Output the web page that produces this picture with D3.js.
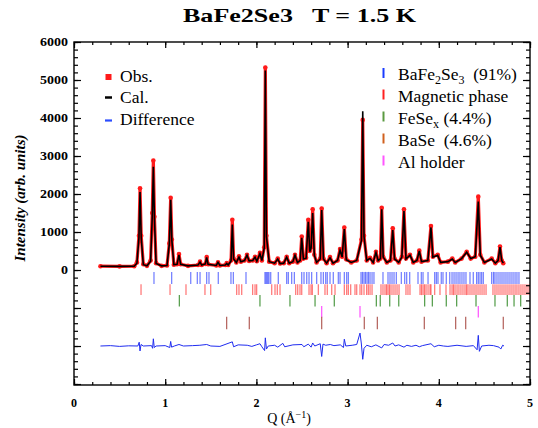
<!DOCTYPE html>
<html>
<head>
<meta charset="utf-8">
<script src="https://cdn.jsdelivr.net/npm/d3@7"></script>
<style>
  body { margin: 0; background: #fff; }
  svg { display: block; }
  text { font-family: "Liberation Serif", "Times New Roman", serif; white-space: pre; }
  .axis path { display: none; }
  .axis line { stroke: #000; stroke-width: 1.2; }
</style>
</head>
<body>
<div id="chart"></div>
<script>
// profile: Q (1/A), observed and calculated intensity
var qVals = [0.29, 0.50, 0.66, 0.69, 0.712, 0.724, 0.737, 0.76, 0.80, 0.84, 0.858, 0.870, 0.882, 0.90, 0.96,
  1.02, 1.045, 1.060, 1.073, 1.095, 1.13, 1.151, 1.17, 1.25, 1.36, 1.382, 1.40, 1.44, 1.455, 1.47, 1.56,
  1.579, 1.60, 1.66, 1.674, 1.69, 1.722, 1.736, 1.750, 1.78, 1.809, 1.83, 1.87, 1.897, 1.92, 1.96, 1.985,
  2.005, 2.039, 2.06, 2.086, 2.098, 2.110, 2.14, 2.20, 2.234, 2.26, 2.30, 2.332, 2.36, 2.40, 2.423, 2.45,
  2.48, 2.497, 2.515, 2.545, 2.569, 2.585, 2.600, 2.617, 2.635, 2.66, 2.70, 2.716, 2.735, 2.77, 2.807,
  2.84, 2.89, 2.917, 2.94, 2.964, 2.985, 3.04, 3.10, 3.152, 3.166, 3.180, 3.21, 3.246, 3.28, 3.311, 3.335,
  3.36, 3.374, 3.39, 3.43, 3.47, 3.495, 3.515, 3.56, 3.595, 3.618, 3.64, 3.684, 3.72, 3.76, 3.786, 3.81,
  3.88, 3.914, 3.935, 3.988, 4.02, 4.10, 4.148, 4.18, 4.25, 4.306, 4.35, 4.40, 4.433, 4.455, 4.50, 4.58,
  4.62, 4.65, 4.671, 4.69, 4.707];
var obsVals = [100, 95, 100, 200, 900, 2150, 900, 150, 110, 250, 1500, 2880, 1400, 180, 110,
  120, 700, 1900, 800, 140, 150, 420, 150, 110, 130, 220, 130, 160, 340, 150, 120,
  200, 120, 130, 180, 130, 250, 1320, 300, 200, 360, 220, 250, 400, 240, 250, 350,
  230, 450, 250, 600, 5330, 900, 220, 180, 300, 170, 180, 350, 180, 220, 400, 200,
  250, 880, 300, 320, 1320, 500, 600, 1600, 400, 200, 300, 1620, 300, 180, 340,
  180, 250, 550, 350, 1120, 280, 200, 250, 800, 3950, 900, 250, 320, 200, 480, 250,
  300, 1640, 350, 200, 250, 1100, 300, 200, 350, 1600, 300, 400, 200, 250, 510, 220,
  250, 1160, 350, 400, 200, 220, 300, 200, 300, 480, 300, 350, 1930, 400, 200, 300,
  180, 250, 620, 250, 180];
var calcVals = [100, 95, 100, 180, 850, 2050, 850, 140, 110, 230, 1400, 2720, 1350, 170, 110,
  120, 680, 1850, 780, 140, 150, 400, 150, 110, 130, 210, 130, 160, 330, 150, 120,
  200, 120, 130, 170, 130, 240, 1200, 290, 200, 340, 220, 250, 390, 240, 250, 340,
  230, 430, 250, 580, 5250, 880, 220, 180, 290, 170, 180, 340, 180, 220, 390, 200,
  250, 850, 290, 310, 1270, 480, 580, 1500, 390, 200, 290, 1580, 290, 180, 320,
  180, 250, 520, 340, 1080, 270, 200, 250, 780, 4180, 880, 250, 310, 200, 460, 250,
  300, 1600, 340, 200, 250, 1050, 290, 200, 340, 1550, 290, 390, 200, 250, 500, 220,
  250, 1120, 340, 390, 200, 220, 290, 200, 300, 470, 300, 350, 1800, 390, 200, 290,
  180, 250, 600, 250, 180];

// difference curve (obs - calc)
var diffQ = [0.29, 0.40, 0.50, 0.60, 0.70, 0.715, 0.724, 0.735, 0.76, 0.85, 0.862, 0.870, 0.880, 0.90,
  1.00, 1.05, 1.060, 1.07, 1.10, 1.151, 1.20, 1.30, 1.38, 1.455, 1.50, 1.60, 1.736, 1.75, 1.80, 1.90,
  1.95, 2.00, 2.039, 2.06, 2.09, 2.098, 2.11, 2.13, 2.20, 2.234, 2.29, 2.31, 2.40, 2.50, 2.52, 2.569,
  2.60, 2.617, 2.64, 2.70, 2.716, 2.73, 2.76, 2.81, 2.85, 2.92, 2.955, 2.964, 2.98, 3.05, 3.10, 3.136,
  3.150, 3.166, 3.18, 3.21, 3.26, 3.31, 3.374, 3.40, 3.45, 3.495, 3.52, 3.56, 3.618, 3.65, 3.70, 3.75,
  3.786, 3.82, 3.914, 3.95, 4.00, 4.05, 4.10, 4.20, 4.30, 4.38, 4.42, 4.433, 4.445, 4.47, 4.55, 4.60,
  4.66, 4.68, 4.70, 4.715];
var diffVals = [0, 10, -10, 5, 0, 100, -130, 40, 0, 10, -60, 190, -40, 0,
  10, -40, 120, -30, 0, 40, 0, 10, 20, 40, 0, -10, 110, -20, 30, 20,
  -10, 30, 60, -20, -120, 215, -80, 0, 20, -30, 70, -20, 30, 40, -20, 50,
  -30, 80, 0, 60, -275, 50, 20, 40, 10, 30, -40, 180, 0, 20, 40, 340,
  80, -350, -60, 20, -20, 30, -50, 40, 20, 80, 0, 30, -30, 20, -10, 20,
  -20, 10, 60, -20, 20, 0, -10, 20, -10, 10, -100, 280, -140, 0, 20, 10,
  -30, -80, 20, 0];

// Bragg reflection positions for each phase
var braggBaFe2Se3 = [0.877, 1.071, 1.280, 1.352, 1.382, 1.455, 1.480, 1.582, 1.721, 1.747, 1.886, 2.094,
  2.105, 2.116, 2.127, 2.138, 2.157, 2.240, 2.332, 2.350, 2.387, 2.416, 2.497, 2.522, 2.552, 2.577, 2.606,
  2.661, 2.708, 2.734, 2.760, 2.777, 2.807, 2.843, 2.898, 2.917, 2.964, 2.990, 3.008, 3.147, 3.163, 3.180,
  3.196, 3.213, 3.229, 3.246, 3.268, 3.289, 3.388, 3.443, 3.465, 3.487, 3.509, 3.534, 3.589, 3.626, 3.648,
  3.681, 3.772, 3.808, 3.827, 3.882, 3.955, 3.973, 3.991, 4.027, 4.046, 4.082, 4.120, 4.145, 4.167, 4.189,
  4.211, 4.232, 4.254, 4.276, 4.298, 4.342, 4.378, 4.415, 4.433, 4.452, 4.470, 4.488, 4.580, 4.600, 4.616,
  4.638, 4.660, 4.682, 4.704, 4.726, 4.748, 4.770, 4.792, 4.814, 4.836, 4.857, 4.879];
var braggMagnetic = [0.735, 1.053, 1.228, 1.436, 1.499, 1.784, 1.809, 1.839, 1.959, 1.985, 2.003, 2.168,
  2.204, 2.229, 2.259, 2.431, 2.453, 2.478, 2.497, 2.577, 2.599, 2.613, 2.679, 2.752, 2.777, 2.826, 2.862,
  2.964, 2.990, 3.008, 3.034, 3.081, 3.100, 3.136, 3.155, 3.180, 3.209, 3.227, 3.246, 3.268, 3.366, 3.388,
  3.410, 3.427, 3.443, 3.459, 3.476, 3.498, 3.520, 3.542, 3.564, 3.640, 3.662, 3.684, 3.794, 3.810, 3.827,
  3.843, 3.860, 3.882, 3.904, 3.914, 3.955, 4.013, 4.079, 4.123, 4.145, 4.161, 4.178, 4.200, 4.221, 4.243,
  4.265, 4.287, 4.304, 4.320, 4.342, 4.364, 4.386, 4.408, 4.430, 4.452, 4.474, 4.496, 4.518, 4.594, 4.616,
  4.638, 4.660, 4.682, 4.704, 4.726, 4.748, 4.770, 4.792, 4.814, 4.836, 4.857, 4.879, 4.901, 4.923, 4.945,
  4.967, 4.989];
var braggFeSex = [1.155, 2.039, 2.368, 2.643, 2.854, 3.315, 3.358, 3.462, 3.561, 3.845, 3.929, 4.082,
  4.196, 4.408, 4.616, 4.751, 4.825, 4.898];
var braggAl = [2.716, 3.136, 4.433];
var braggBaSe = [1.674, 1.922, 2.716, 3.183, 3.326, 3.841, 4.185, 4.295, 4.707];

var xTicks = [0, 1, 2, 3, 4, 5];
var yTicks = [0, 1000, 2000, 3000, 4000, 5000, 6000];

var svgWidth = 538;
var svgHeight = 428;

var svg = d3.select("#chart")
  .append("svg")
  .attr("width", svgWidth)
  .attr("height", svgHeight);

// scales: the frame runs from x=74 to 530 and y=42 (6000) to 385
var xScale = d3.scaleLinear().domain([0, 5]).range([74, 530]);
var yScale = d3.scaleLinear().domain([-3026, 6000]).range([385, 42]);

var diffOffset = -2000;

// tick mark rows under the pattern, in intensity units [top, bottom]
var rows = [
  { data: braggBaFe2Se3, top: -50, bottom: -365, color: "rgba(30,50,255,0.65)" },
  { data: braggMagnetic, top: -375, bottom: -660, color: "rgba(255,20,20,0.6)" },
  { data: braggFeSex, top: -660, bottom: -960, color: "#4f9a45" },
  { data: braggAl, top: -950, bottom: -1250, color: "#ff50ff" },
  { data: braggBaSe, top: -1230, bottom: -1560, color: "#b25e58" }
];

rows.forEach(function (row) {
  svg.append("g")
    .selectAll("line")
    .data(row.data)
    .enter()
    .append("line")
    .attr("x1", d => xScale(d))
    .attr("x2", d => xScale(d))
    .attr("y1", yScale(row.top))
    .attr("y2", yScale(row.bottom))
    .attr("stroke", row.color)
    .attr("stroke-width", 1.2);
});

// difference curve
var diffLine = d3.line()
  .x((d, i) => xScale(diffQ[i]))
  .y(d => yScale(d + diffOffset));

svg.append("path")
  .datum(diffVals)
  .attr("d", diffLine)
  .attr("fill", "none")
  .attr("stroke", "#1f2cf0")
  .attr("stroke-width", 1);

// observed points: red band plus markers
var obsLine = d3.line()
  .x((d, i) => xScale(qVals[i]))
  .y(d => yScale(d));

svg.append("path")
  .datum(obsVals)
  .attr("d", obsLine)
  .attr("fill", "none")
  .attr("stroke", "#ff1a1a")
  .attr("stroke-width", 3.2)
  .attr("stroke-linejoin", "round");

svg.append("g")
  .selectAll("circle")
  .data(obsVals)
  .enter()
  .append("circle")
  .attr("cx", (d, i) => xScale(qVals[i]))
  .attr("cy", d => yScale(d))
  .attr("r", 2.3)
  .attr("fill", "#ff1a1a");

// calculated line
svg.append("path")
  .datum(calcVals)
  .attr("d", obsLine)
  .attr("fill", "none")
  .attr("stroke", "#000")
  .attr("stroke-width", 1.6);

// axes with inward ticks on all four sides
var xMinor = d3.range(0, 5.001, 0.2);
var yMinor = d3.range(-3000, 6001, 200);
var yMajor = d3.range(-3000, 6001, 1000);

function addAxis(axisFn, scale, values, size, transform) {
  svg.append("g")
    .attr("class", "axis")
    .attr("transform", transform)
    .call(axisFn(scale).tickValues(values).tickSize(size).tickFormat(""));
}

addAxis(d3.axisBottom, xScale, xMinor, -3, "translate(0,385)");
addAxis(d3.axisBottom, xScale, xTicks, -6, "translate(0,385)");
addAxis(d3.axisTop, xScale, xMinor, -3, "translate(0,42)");
addAxis(d3.axisTop, xScale, xTicks, -6, "translate(0,42)");
addAxis(d3.axisLeft, yScale, yMinor, -4, "translate(74,0)");
addAxis(d3.axisLeft, yScale, yMajor, -7, "translate(74,0)");
addAxis(d3.axisRight, yScale, yMinor, -4, "translate(530,0)");
addAxis(d3.axisRight, yScale, yMajor, -7, "translate(530,0)");

// frame
svg.append("rect")
  .attr("x", 74)
  .attr("y", 42)
  .attr("width", 456)
  .attr("height", 343)
  .attr("fill", "none")
  .attr("stroke", "#000")
  .attr("stroke-width", 1.4);

// tick labels
svg.append("g")
  .selectAll("text")
  .data(yTicks)
  .enter()
  .append("text")
  .attr("x", 68)
  .attr("y", d => yScale(d) + 4)
  .attr("text-anchor", "end")
  .attr("font-size", 12)
  .attr("font-weight", "bold")
  .attr("textLength", d => String(d).length * 7)
  .attr("lengthAdjust", "spacingAndGlyphs")
  .text(d => d);

svg.append("g")
  .selectAll("text")
  .data(xTicks)
  .enter()
  .append("text")
  .attr("x", d => xScale(d))
  .attr("y", 407)
  .attr("text-anchor", "middle")
  .attr("font-size", 12)
  .attr("font-weight", "bold")
  .text(d => d);

// title and axis titles
svg.append("text")
  .attr("x", 183)
  .attr("y", 22)
  .attr("font-size", 19.5)
  .attr("font-weight", "bold")
  .attr("textLength", 233)
  .attr("lengthAdjust", "spacingAndGlyphs")
  .text("BaFe2Se3   T = 1.5 K");

svg.append("text")
  .attr("transform", "translate(25,198) rotate(-90)")
  .attr("text-anchor", "middle")
  .attr("font-size", 14)
  .attr("font-weight", "bold")
  .attr("font-style", "italic")
  .attr("textLength", 127)
  .attr("lengthAdjust", "spacingAndGlyphs")
  .text("Intensity (arb. units)");

var xTitle = svg.append("text")
  .attr("x", 289)
  .attr("y", 423)
  .attr("text-anchor", "middle")
  .attr("font-size", 14);
xTitle.append("tspan").text("Q (Å");
xTitle.append("tspan").attr("font-size", 10).attr("dy", -5).text("−1");
xTitle.append("tspan").attr("dy", 5).text(")");

// left legend
var legendFont = 17.5;
svg.append("rect").attr("x", 105.5).attr("y", 74).attr("width", 6).attr("height", 6).attr("fill", "#ff1a1a");
svg.append("line").attr("x1", 105).attr("x2", 112).attr("y1", 97.5).attr("y2", 97.5)
  .attr("stroke", "#000").attr("stroke-width", 2.5);
svg.append("line").attr("x1", 105).attr("x2", 112).attr("y1", 120.5).attr("y2", 120.5)
  .attr("stroke", "#2a4cff").attr("stroke-width", 2.2);

[["Obs.", 81.5], ["Cal.", 102.5], ["Difference", 125]].forEach(function (item) {
  svg.append("text")
    .attr("x", 120)
    .attr("y", item[1])
    .attr("font-size", legendFont)
    .text(item[0]);
});

// right legend (phases)
var phaseColors = ["#1a3cff", "#ff2020", "#5a9a40", "#d0601e", "#ff55ff"];
var phaseBaselines = [80, 101.5, 123.5, 145.5, 167.5];

phaseBaselines.forEach(function (b, i) {
  svg.append("line")
    .attr("x1", 383.5).attr("x2", 383.5)
    .attr("y1", b - 12).attr("y2", b - 2)
    .attr("stroke", phaseColors[i])
    .attr("stroke-width", 2);
});

var t1 = svg.append("text").attr("x", 398).attr("y", phaseBaselines[0]).attr("font-size", legendFont);
t1.append("tspan").text("BaFe");
t1.append("tspan").attr("font-size", 12).attr("dy", 4).text("2");
t1.append("tspan").attr("dy", -4).text("Se");
t1.append("tspan").attr("font-size", 12).attr("dy", 4).text("3");
t1.append("tspan").attr("dy", -4).text("  (91%)");

svg.append("text").attr("x", 398).attr("y", phaseBaselines[1]).attr("font-size", legendFont)
  .text("Magnetic phase");

var t3 = svg.append("text").attr("x", 398).attr("y", phaseBaselines[2]).attr("font-size", legendFont);
t3.append("tspan").text("FeSe");
t3.append("tspan").attr("font-size", 12).attr("dy", 4).text("x");
t3.append("tspan").attr("dy", -4).text(" (4.4%)");

svg.append("text").attr("x", 398).attr("y", phaseBaselines[3]).attr("font-size", legendFont)
  .text("BaSe  (4.6%)");
svg.append("text").attr("x", 398).attr("y", phaseBaselines[4]).attr("font-size", legendFont)
  .text("Al holder");
</script>
</body>
</html>
